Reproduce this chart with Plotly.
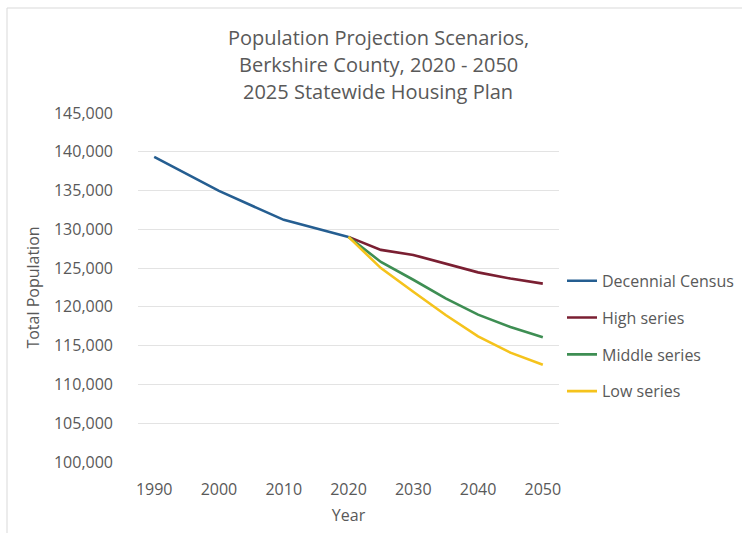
import plotly.graph_objects as go

# Decennial census counts
census_years = [1990, 2000, 2010, 2020]
census_pop = [139352, 134953, 131219, 129026]

# Projection scenarios, 2020-2050
proj_years = [2020, 2025, 2030, 2035, 2040, 2045, 2050]
high_series = [129026, 127350, 126700, 125550, 124450, 123650, 123000]
middle_series = [129026, 125800, 123500, 121100, 119000, 117400, 116100]
low_series = [129026, 125000, 121950, 118950, 116200, 114100, 112550]

x_ticks = [1990, 2000, 2010, 2020, 2030, 2040, 2050]
y_ticks = list(range(100000, 145001, 5000))

title_lines = [
    "Population Projection Scenarios,",
    "Berkshire County, 2020 - 2050",
    "2025 Statewide Housing Plan",
]

TEXT = "#595959"
FONT = "Open Sans"

series = [
    ("Decennial Census", census_years, census_pop, "#255E91"),
    ("High series", proj_years, high_series, "#7A1F32"),
    ("Middle series", proj_years, middle_series, "#3E8E53"),
    ("Low series", proj_years, low_series, "#F5C31C"),
]

fig = go.Figure()
for i, (name, xs, ys, color) in enumerate(series):
    fig.add_trace(go.Scatter(
        x=xs, y=ys, name=name, mode="lines",
        line=dict(color=color, width=2.6),
        legendgroup=f"g{i}",
    ))

W, H = 742, 533
L, R, T, B = 138, 183, 113, 71
pw, ph = W - L - R, H - T - B


def px_x(v):
    return (v - L) / pw


def px_y(v):
    return (H - B - v) / ph


fig.update_layout(
    width=W, height=H,
    margin=dict(l=L, r=R, t=T, b=B, autoexpand=False),
    paper_bgcolor="white", plot_bgcolor="white",
    font=dict(family=FONT, color=TEXT, size=16),
    xaxis=dict(
        range=[1987.5, 2052.5],
        tickvals=x_ticks,
        ticktext=[str(v) for v in x_ticks],
        showgrid=False, zeroline=False,
        showline=False,
        ticks="", ticklabelstandoff=16,
        title=dict(text="Year", standoff=10, font=dict(size=16, color=TEXT)),
        tickfont=dict(size=16, color=TEXT),
    ),
    yaxis=dict(
        range=[100000, 145000],
        tickvals=y_ticks,
        ticktext=[f"{v:,}" for v in y_ticks],
        showgrid=True, gridcolor="#E3E3E3", gridwidth=1,
        zeroline=False, showline=False, ticks="",
        ticklabelstandoff=24,
        title=dict(text="Total Population", standoff=10, font=dict(size=16, color=TEXT)),
        tickfont=dict(size=16, color=TEXT),
    ),
    legend=dict(
        xref="container", x=562 / W, xanchor="left",
        y=0.36, yanchor="middle",
        font=dict(size=16, color=TEXT),
        tracegroupgap=13,
        bgcolor="rgba(0,0,0,0)",
    ),
    showlegend=True,
)

# Three-line chart title
for line, yc in zip(title_lines, [37, 64.5, 92]):
    fig.add_annotation(
        text=line, showarrow=False,
        xref="paper", yref="paper",
        x=px_x(378), y=px_y(yc), xanchor="center", yanchor="middle",
        font=dict(family=FONT, size=20, color=TEXT),
    )

# Light frame around the chart area (top and left edges)
frame = dict(color="#D9D9D9", width=1)
fig.add_shape(type="line", xref="paper", yref="paper",
              x0=px_x(7), x1=px_x(W + 5), y0=px_y(8), y1=px_y(8), line=frame)
fig.add_shape(type="line", xref="paper", yref="paper",
              x0=px_x(7), x1=px_x(7), y0=px_y(8), y1=px_y(H + 5), line=frame)

fig.write_html("out.html")
